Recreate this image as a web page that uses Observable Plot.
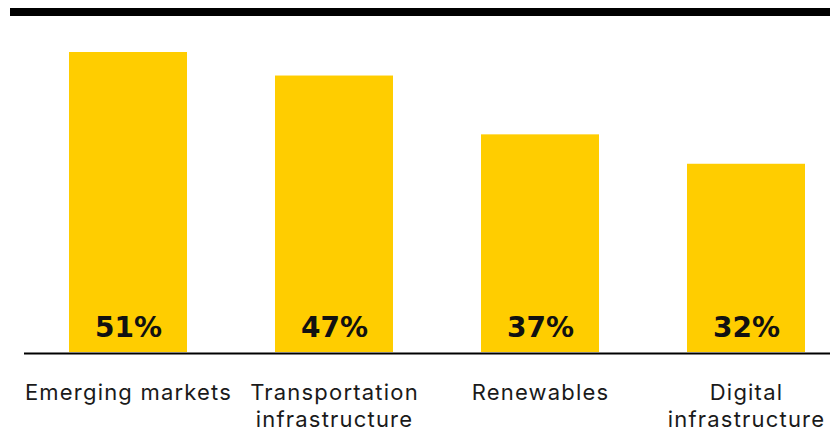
<!DOCTYPE html>
<html>
<head>
<meta charset="utf-8">
<script src="https://cdn.jsdelivr.net/npm/d3@7"></script>
<script src="https://cdn.jsdelivr.net/npm/@observablehq/plot@0.6"></script>
<style>
  html, body { margin: 0; padding: 0; background: #fff; }
  #wrap { position: relative; width: 830px; height: 430px; overflow: hidden; }
  #topbar { position: absolute; top: 8px; left: 10px; right: 0; height: 8px; background: #000; }
  #chart { position: absolute; top: 0; left: 0; }
  #chart svg g[aria-label="x-axis tick label"] text { letter-spacing: 1.2px; }
</style>
</head>
<body>
<div id="wrap">
  <div id="chart"></div>
  <div id="topbar"></div>
</div>
<script>
const categories = ["Emerging markets", "Transportation infrastructure", "Renewables", "Digital infrastructure"];
const values = [51, 47, 37, 32];
const tickLabels = ["Emerging markets", "Transportation\ninfrastructure", "Renewables", "Digital\ninfrastructure"];

const data = categories.map((c, i) => ({category: c, value: values[i]}));
const labelOf = new Map(categories.map((c, i) => [c, tickLabels[i]]));

const chart = Plot.plot({
  width: 830,
  height: 430,
  marginLeft: 68,
  marginRight: 24,
  marginTop: 52,
  marginBottom: 78,
  style: {fontFamily: "Inter, 'Noto Sans', sans-serif", background: "#fff", overflow: "visible"},
  x: {domain: categories, paddingInner: 0.429, paddingOuter: 0, label: null},
  y: {domain: [0, 51], axis: null},
  marks: [
    Plot.barY(data, {x: "category", y: "value", fill: "#FFCD00"}),
    Plot.ruleY([0], {stroke: "#000", strokeWidth: 2, dy: 1, insetLeft: -44, insetRight: -24}),
    Plot.text(data, {
      x: "category", y: 0, text: d => d.value + "%",
      fontSize: 28, fontWeight: 700, fill: "#111",
      fontFamily: "'DejaVu Sans', sans-serif",
      lineAnchor: "bottom", dy: -16
    }),
    Plot.axisX({
      tickSize: 0, tickPadding: 28, fontSize: 22, lineHeight: 1.23,
      tickFormat: d => labelOf.get(d), fill: "#1a1a1a", label: null
    })
  ]
});
document.getElementById("chart").appendChild(chart);
</script>
</body>
</html>
